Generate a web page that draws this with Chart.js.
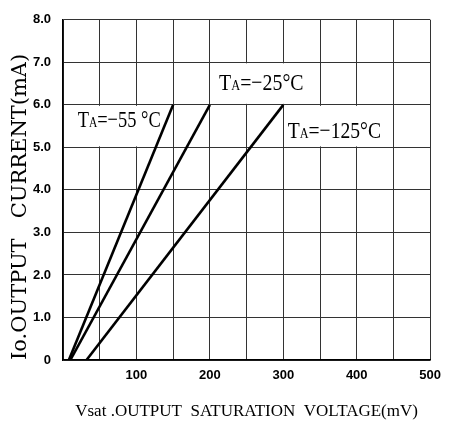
<!DOCTYPE html>
<html>
<head>
<meta charset="utf-8">
<script src="https://cdn.jsdelivr.net/npm/chart.js@4/dist/chart.umd.min.js"></script>
<style>
  html, body { margin: 0; padding: 0; background: #fff; }
  #wrap { width: 449px; height: 423px; }
</style>
</head>
<body>
<div id="wrap"><canvas id="c" width="449" height="423"></canvas></div>
<script>
// ---- data ----
const currentMA = [0, 6];            // Io (mA) at the two ends of each line
const vsatM55  = [8, 150];           // Vsat (mV), TA = -55 °C
const vsatM25  = [10, 200];          // Vsat (mV), TA = -25 °C
const vsatM125 = [32, 300];          // Vsat (mV), TA = -125 °C
const seriesNames = ['TA=−55 °C', 'TA=−25°C', 'TA=−125°C'];
const labelTails  = ['=−55 °C', '=−25°C', '=−125°C'];
const xTickLabels = [100, 200, 300, 400, 500];
const yTickLabels = ['0', '1.0', '2.0', '3.0', '4.0', '5.0', '6.0', '7.0', '8.0'];

const toPts = (xs, ys) => xs.map((x, i) => ({ x: x, y: ys[i] }));

// label boxes (data coords: x0, x1, y0, y1) and text anchor (x, baseline y, width in mV)
const labelBoxes = [
  { box: [0, 150, 5, 6],   at: [20, 5.47, 113] },
  { box: [200, 350, 6, 7], at: [212.6, 6.36, 115] },
  { box: [300, 450, 5, 6], at: [306, 5.23, 127] }
];

const labelPlugin = {
  id: 'tempLabels',
  beforeDatasetsDraw(chart) {
    const ctx = chart.ctx;
    const xs = chart.scales.x, ys = chart.scales.y;
    labelBoxes.forEach((lb, i) => {
      const [x0, x1, y0, y1] = lb.box;
      const px0 = xs.getPixelForValue(x0) + 1;
      const px1 = Math.min(xs.getPixelForValue(x1), chart.chartArea.right) - 1;
      const py0 = ys.getPixelForValue(y1) + 1;
      const py1 = ys.getPixelForValue(y0) - 1;
      ctx.save();
      ctx.fillStyle = '#fff';
      ctx.fillRect(px0, py0, px1 - px0, py1 - py0);
      const tx = xs.getPixelForValue(lb.at[0]);
      const ty = ys.getPixelForValue(lb.at[1]);
      const targetW = xs.getPixelForValue(lb.at[0] + lb.at[2]) - tx;
      const big = '24px "Liberation Serif"';
      const small = '15px "Liberation Serif"';
      const segs = [['T', big], ['A', small], [labelTails[i], big]];
      let w = 0;
      segs.forEach(s => { ctx.font = s[1]; w += ctx.measureText(s[0]).width; });
      ctx.translate(tx, ty);
      ctx.scale(targetW / w, 1);
      ctx.fillStyle = '#000';
      ctx.textBaseline = 'alphabetic';
      ctx.textAlign = 'left';
      let cx = 0;
      segs.forEach(s => { ctx.font = s[1]; ctx.fillText(s[0], cx, 0); cx += ctx.measureText(s[0]).width; });
      ctx.restore();
    });
  }
};

const lineStyle = { borderColor: '#000', borderWidth: 2.6, pointRadius: 0, showLine: true, fill: false, tension: 0 };
const tickFont = { family: 'Liberation Sans', size: 13, weight: 'bold' };

new Chart(document.getElementById('c'), {
  type: 'scatter',
  data: {
    datasets: [
      Object.assign({ label: seriesNames[0], data: toPts(vsatM55, currentMA) }, lineStyle),
      Object.assign({ label: seriesNames[1], data: toPts(vsatM25, currentMA) }, lineStyle),
      Object.assign({ label: seriesNames[2], data: toPts(vsatM125, currentMA) }, lineStyle)
    ]
  },
  options: {
    responsive: false,
    animation: false,
    layout: { padding: { top: 19, right: 12, left: 0, bottom: 0 } },
    plugins: { legend: { display: false }, tooltip: { enabled: false } },
    scales: {
      x: {
        type: 'linear', min: 0, max: 500,
        afterFit(s) { s.height = 63; },
        border: { color: '#000', width: 1.5 },
        grid: { color: '#333', lineWidth: 1, drawTicks: false },
        ticks: {
          stepSize: 50, padding: 8, color: '#000', maxRotation: 0, autoSkip: false,
          font: tickFont,
          callback: v => (xTickLabels.includes(v) ? String(v) : '')
        },
        title: {
          display: true, text: 'Vsat .OUTPUT  SATURATION  VOLTAGE(mV)', color: '#000',
          font: { family: 'Liberation Serif', size: 17 }, padding: { top: 0, bottom: 1 }
        }
      },
      y: {
        type: 'linear', min: 0, max: 8,
        afterFit(s) { s.width = 63; },
        border: { color: '#000', width: 1.5 },
        grid: { color: '#333', lineWidth: 1, drawTicks: false },
        ticks: {
          stepSize: 1, padding: 12, color: '#000', autoSkip: false,
          font: tickFont,
          callback: v => yTickLabels[v]
        },
        title: {
          display: true, align: 'start', text: 'Io.OUTPUT   CURRENT(mA)', color: '#000',
          font: { family: 'DejaVu Serif', size: 21 }, padding: { top: 8, bottom: 0 }
        }
      }
    }
  },
  plugins: [labelPlugin]
});
</script>
</body>
</html>
